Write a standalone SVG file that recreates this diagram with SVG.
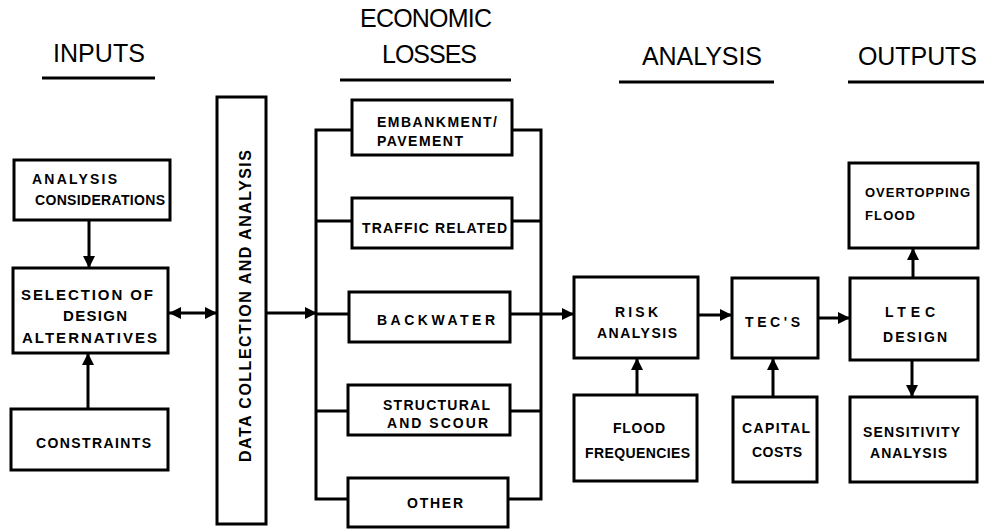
<svg xmlns="http://www.w3.org/2000/svg" width="984" height="529" viewBox="0 0 984 529" xml:space="preserve">
<defs>
<style>
.box{fill:#fff;stroke:#000;stroke-width:3;}
.ln{fill:none;stroke:#000;stroke-width:3;}
.t{font-family:"Liberation Sans",Arial,sans-serif;font-weight:bold;font-size:14px;fill:#000;}
.h{font-family:"Liberation Sans",Arial,sans-serif;font-size:25px;fill:#000;}
</style>
<marker id="ah" markerUnits="userSpaceOnUse" markerWidth="14" markerHeight="14" viewBox="0 0 14 14" refX="13" refY="7" orient="auto-start-reverse">
<path d="M1,1 L13,7 L1,13 Z" fill="#000"/>
</marker>
</defs>
<g id="headers">
<text class="h" x="53" y="62" textLength="92" lengthAdjust="spacing">INPUTS</text>
<line class="ln" x1="42" y1="78" x2="155" y2="78"/>
<text class="h" x="360" y="27" textLength="132" lengthAdjust="spacing">ECONOMIC</text>
<text class="h" x="382" y="63" textLength="95" lengthAdjust="spacing">LOSSES</text>
<line class="ln" x1="340" y1="80" x2="511" y2="80"/>
<text class="h" x="642" y="65" textLength="120" lengthAdjust="spacing">ANALYSIS</text>
<line class="ln" x1="619" y1="82" x2="774" y2="82"/>
<text class="h" x="858" y="65" textLength="119" lengthAdjust="spacing">OUTPUTS</text>
<line class="ln" x1="848" y1="82" x2="984" y2="82"/>
</g>
<g id="connectors">
<line class="ln" x1="89" y1="220" x2="89" y2="268" marker-end="url(#ah)"/>
<line class="ln" x1="88" y1="409" x2="88" y2="353" marker-end="url(#ah)"/>
<line class="ln" x1="169" y1="313" x2="217" y2="313" marker-start="url(#ah)" marker-end="url(#ah)"/>
<line class="ln" x1="266" y1="313" x2="317" y2="313" marker-end="url(#ah)"/>
<polyline class="ln" points="352,130 316,130 316,499 348,499"/>
<line class="ln" x1="316" y1="221" x2="352" y2="221"/>
<line class="ln" x1="316" y1="314" x2="349" y2="314"/>
<line class="ln" x1="316" y1="411" x2="348" y2="411"/>
<polyline class="ln" points="512,130 541,130 541,499 508,499"/>
<line class="ln" x1="512" y1="221" x2="541" y2="221"/>
<line class="ln" x1="510" y1="314" x2="541" y2="314"/>
<line class="ln" x1="510" y1="411" x2="541" y2="411"/>
<line class="ln" x1="541" y1="314" x2="574" y2="314" marker-end="url(#ah)"/>
<line class="ln" x1="637" y1="395" x2="637" y2="358" marker-end="url(#ah)"/>
<line class="ln" x1="698" y1="315" x2="732" y2="315" marker-end="url(#ah)"/>
<line class="ln" x1="773" y1="397" x2="773" y2="358" marker-end="url(#ah)"/>
<line class="ln" x1="818" y1="318" x2="850" y2="318" marker-end="url(#ah)"/>
<line class="ln" x1="913" y1="278" x2="913" y2="248" marker-end="url(#ah)"/>
<line class="ln" x1="912" y1="360" x2="912" y2="397" marker-end="url(#ah)"/>
</g>
<g id="analysis-considerations">
<rect class="box" x="14" y="160" width="156" height="60"/>
<text class="t" x="32" y="184" textLength="85" lengthAdjust="spacing">ANALYSIS</text>
<text class="t" x="35" y="205" textLength="130" lengthAdjust="spacing">CONSIDERATIONS</text>
</g>
<g id="selection">
<rect class="box" x="13" y="268" width="155" height="85"/>
<text class="t" x="21" y="300" textLength="132" lengthAdjust="spacing" style="font-size:15px">SELECTION  OF</text>
<text class="t" x="63" y="321" textLength="64" lengthAdjust="spacing" style="font-size:15px">DESIGN</text>
<text class="t" x="22" y="343" textLength="135" lengthAdjust="spacing" style="font-size:15px">ALTERNATIVES</text>
</g>
<g id="constraints">
<rect class="box" x="11" y="409" width="157" height="61"/>
<text class="t" x="36" y="448" textLength="115" lengthAdjust="spacing">CONSTRAINTS</text>
</g>
<g id="data-collection">
<rect class="box" x="217" y="97" width="49" height="427"/>
<text class="t" transform="translate(251,462) rotate(-90)" x="0" y="0" textLength="312" lengthAdjust="spacing" style="font-size:16px">DATA  COLLECTION  AND  ANALYSIS</text>
</g>
<g id="embankment">
<rect class="box" x="352" y="100" width="160" height="55"/>
<text class="t" x="377" y="127" textLength="120" lengthAdjust="spacing">EMBANKMENT/</text>
<text class="t" x="377" y="146" textLength="86" lengthAdjust="spacing">PAVEMENT</text>
</g>
<g id="traffic">
<rect class="box" x="352" y="198" width="160" height="50"/>
<text class="t" x="362" y="233" textLength="145" lengthAdjust="spacing">TRAFFIC RELATED</text>
</g>
<g id="backwater">
<rect class="box" x="349" y="292" width="161" height="50"/>
<text class="t" x="377" y="325" textLength="118" lengthAdjust="spacing">BACKWATER</text>
</g>
<g id="structural">
<rect class="box" x="348" y="385" width="162" height="50"/>
<text class="t" x="383" y="410" textLength="107" lengthAdjust="spacing">STRUCTURAL</text>
<text class="t" x="387" y="428" textLength="101" lengthAdjust="spacing">AND  SCOUR</text>
</g>
<g id="other">
<rect class="box" x="348" y="478" width="160" height="49"/>
<text class="t" x="407" y="508" textLength="56" lengthAdjust="spacing">OTHER</text>
</g>
<g id="risk-analysis">
<rect class="box" x="574" y="277" width="124" height="81"/>
<text class="t" x="615" y="317" textLength="43" lengthAdjust="spacing">RISK</text>
<text class="t" x="597" y="338" textLength="80" lengthAdjust="spacing">ANALYSIS</text>
</g>
<g id="flood-frequencies">
<rect class="box" x="574" y="395" width="123" height="86"/>
<text class="t" x="613" y="433" textLength="52" lengthAdjust="spacing">FLOOD</text>
<text class="t" x="585" y="458" textLength="105" lengthAdjust="spacing">FREQUENCIES</text>
</g>
<g id="tecs">
<rect class="box" x="732" y="278" width="86" height="80"/>
<text class="t" x="745" y="327" textLength="55" lengthAdjust="spacing">TEC'S</text>
</g>
<g id="capital-costs">
<rect class="box" x="733" y="397" width="84" height="85"/>
<text class="t" x="742" y="433" textLength="68" lengthAdjust="spacing">CAPITAL</text>
<text class="t" x="752" y="457" textLength="50" lengthAdjust="spacing">COSTS</text>
</g>
<g id="ltec-design">
<rect class="box" x="850" y="278" width="128" height="82"/>
<text class="t" x="885" y="317" textLength="50" lengthAdjust="spacing">LTEC</text>
<text class="t" x="883" y="342" textLength="64" lengthAdjust="spacing">DESIGN</text>
</g>
<g id="overtopping-flood">
<rect class="box" x="849" y="163" width="129" height="85"/>
<text class="t" x="865" y="197" textLength="105" lengthAdjust="spacing" style="font-size:13px">OVERTOPPING</text>
<text class="t" x="865" y="220" textLength="50" lengthAdjust="spacing" style="font-size:13px">FLOOD</text>
</g>
<g id="sensitivity-analysis">
<rect class="box" x="850" y="397" width="127" height="85"/>
<text class="t" x="863" y="437" textLength="97" lengthAdjust="spacing">SENSITIVITY</text>
<text class="t" x="870" y="458" textLength="77" lengthAdjust="spacing">ANALYSIS</text>
</g>
</svg>
